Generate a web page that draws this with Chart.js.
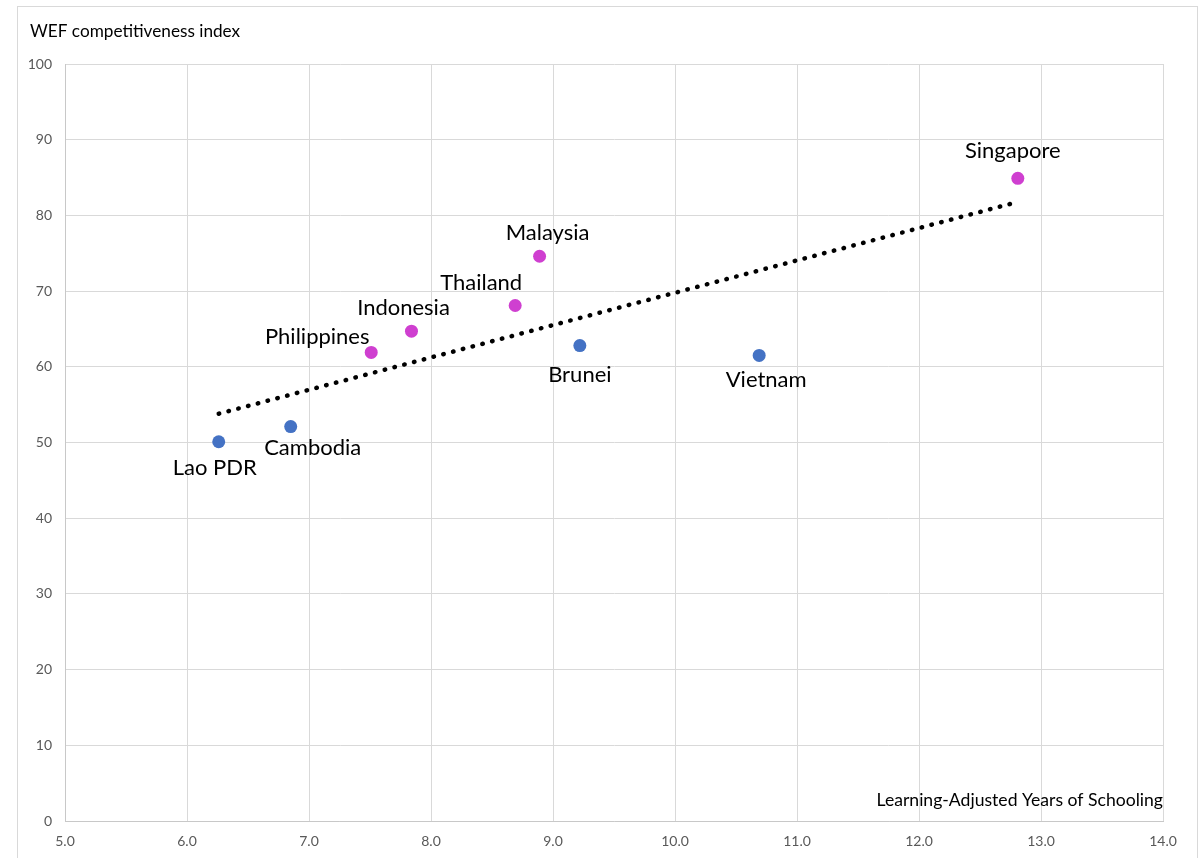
<html>
<head>
<meta charset="utf-8">
<script src="https://cdn.jsdelivr.net/npm/chart.js@4.4.1/dist/chart.umd.min.js"></script>
<style>
  body { margin: 0; background: #fff; }
  #wrap { width: 1203px; height: 858px; }
</style>
</head>
<body>
<div id="wrap"><canvas id="lays"></canvas></div>
<script>
// values
const countries = ['Lao PDR', 'Cambodia', 'Philippines', 'Indonesia', 'Thailand', 'Malaysia', 'Brunei', 'Vietnam', 'Singapore'];
const schoolingYears = [6.26, 6.85, 7.51, 7.84, 8.69, 8.89, 9.22, 10.69, 12.81];
const wefIndex = [50.1, 52.1, 61.9, 64.7, 68.1, 74.6, 62.8, 61.5, 84.9];
// countries drawn in magenta, the rest in blue
const highlighted = ['Philippines', 'Indonesia', 'Thailand', 'Malaysia', 'Singapore'];
// linear trend, its two ends
const trendX = [6.26, 12.79];
const trendY = [53.8, 81.7];
const xTicks = [5, 6, 7, 8, 9, 10, 11, 12, 13, 14];
const yTicks = [0, 10, 20, 30, 40, 50, 60, 70, 80, 90, 100];

function pointsFor(keep) {
  var out = [];
  countries.forEach(function (c, i) {
    if (highlighted.includes(c) === keep) out.push({ x: schoolingYears[i], y: wefIndex[i], name: c });
  });
  return out;
}

// where each name sits relative to its dot (px)
const labelOffsets = {
  'Lao PDR': [-4, 26], 'Cambodia': [22, 21], 'Philippines': [-54, -16],
  'Indonesia': [-8, -23], 'Thailand': [-34, -23], 'Malaysia': [8, -23],
  'Brunei': [0, 29], 'Vietnam': [7, 24], 'Singapore': [-5, -27]
};

const decor = {
  id: 'decor',
  beforeDraw(chart) {
    const ctx = chart.ctx;
    ctx.save();
    ctx.strokeStyle = '#d9d9d9';
    ctx.lineWidth = 1;
    ctx.strokeRect(17.5, 6.5, 1180, 900);
    ctx.restore();
  },
  afterDraw(chart) {
    const ctx = chart.ctx;
    const area = chart.chartArea;
    ctx.save();
    ctx.fillStyle = '#000';
    ctx.font = '17.2px Lato';
    ctx.textAlign = 'left';
    ctx.textBaseline = 'middle';
    ctx.fillText('WEF competitiveness index', 30, 31);
    ctx.font = '17.6px Lato';
    ctx.textAlign = 'right';
    ctx.fillText('Learning-Adjusted Years of Schooling', area.right, area.bottom - 21);

    ctx.font = '22px Lato';
    ctx.textAlign = 'center';
    chart.data.datasets.forEach(function (ds, di) {
      if (!ds.showNames) return;
      chart.getDatasetMeta(di).data.forEach(function (el, i) {
        const name = ds.data[i].name;
        const off = labelOffsets[name] || [0, -20];
        ctx.fillText(name, el.x + off[0], el.y + off[1]);
      });
    });
    ctx.restore();
  }
};

new Chart(document.getElementById('lays'), {
  type: 'scatter',
  data: {
    datasets: [
      {
        label: 'trend',
        type: 'line',
        data: trendX.map(function (x, i) { return { x: x, y: trendY[i] }; }),
        borderColor: '#000',
        borderWidth: 4.5,
        borderDash: [0.5, 9.6],
        borderCapStyle: 'round',
        pointRadius: 0,
        fill: false,
        order: 2
      },
      {
        label: 'highlighted',
        data: pointsFor(true),
        backgroundColor: '#cf3fd0',
        borderWidth: 0,
        pointRadius: 6.5,
        showNames: true,
        order: 1
      },
      {
        label: 'others',
        data: pointsFor(false),
        backgroundColor: '#4472c4',
        borderWidth: 0,
        pointRadius: 6.5,
        showNames: true,
        order: 1
      }
    ]
  },
  options: {
    responsive: true,
    maintainAspectRatio: false,
    animation: false,
    layout: { padding: { top: 64, right: 40, left: 0, bottom: 0 } },
    plugins: { legend: { display: false }, tooltip: { enabled: false } },
    scales: {
      x: {
        type: 'linear',
        min: 5, max: 14,
        afterBuildTicks: function (s) { s.ticks = xTicks.map(function (v) { return { value: v }; }); },
        afterFit: function (s) { s.height = 37; },
        ticks: {
          padding: 12,
          color: '#595959',
          font: { family: 'Lato', size: 14 },
          callback: function (v) { return Number(v).toFixed(1); }
        },
        grid: { color: '#d9d9d9', drawTicks: false },
        border: { color: '#c8c8c8' }
      },
      y: {
        min: 0, max: 100,
        afterBuildTicks: function (s) { s.ticks = yTicks.map(function (v) { return { value: v }; }); },
        afterFit: function (s) { s.width = 65; },
        ticks: {
          padding: 13,
          color: '#595959',
          font: { family: 'Lato', size: 14 }
        },
        grid: { color: '#d9d9d9', drawTicks: false },
        border: { color: '#c8c8c8' }
      }
    }
  },
  plugins: [decor]
});
</script>
</body>
</html>
